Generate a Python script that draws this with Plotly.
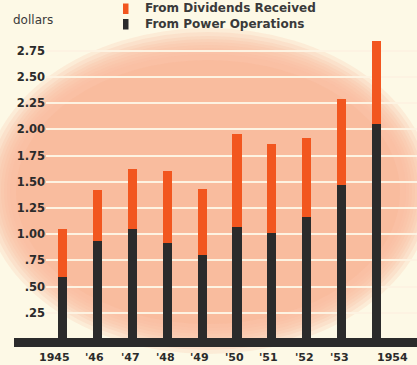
import plotly.graph_objects as go

# Earnings per share by year, in dollars
years = ["1945", "'46", "'47", "'48", "'49", "'50", "'51", "'52", "'53", "1954"]
power_operations = [0.59, 0.94, 1.05, 0.92, 0.80, 1.07, 1.01, 1.16, 1.47, 2.05]
dividends_received = [0.46, 0.48, 0.57, 0.68, 0.63, 0.89, 0.85, 0.76, 0.82, 0.79]

y_ticks = [0.25, 0.50, 0.75, 1.00, 1.25, 1.50, 1.75, 2.00, 2.25, 2.50, 2.75]
y_tick_text = [".25", ".50", ".75", "1.00", "1.25", "1.50", "1.75", "2.00", "2.25", "2.50", "2.75"]

# horizontal nudges for the year labels under the bars (pixels)
label_shift = [-8, -3, -2, -2, -3, -3, -3, -2, -2, 16]

W, H = 417, 365
CREAM = "#fdf9e6"
SALMON = "#f8b99b"
ORANGE = "#f2561f"
DARK = "#2b2b2b"
TEXT = "#3a3a3a"


def px(x):
    return x / W


def py(y):
    return (H - y) / H


idx = list(range(len(years)))

fig = go.Figure()
fig.add_trace(go.Bar(x=idx, y=power_operations, width=0.26, marker=dict(color=DARK, line=dict(width=0)),
                     name="From Power Operations", showlegend=False))
fig.add_trace(go.Bar(x=idx, y=dividends_received, width=0.26, marker=dict(color=ORANGE, line=dict(width=0)),
                     name="From Dividends Received", showlegend=False))

shapes = []
# soft salmon backdrop behind the plot: stacked translucent ellipses fade the rim
for grow in [18, 14, 10, 7, 4, 1, -2, -5, -8]:
    shapes.append(dict(type="circle", xref="paper", yref="paper", layer="below",
                       x0=px(2 - grow), x1=px(414 + grow), y0=py(336 + grow), y1=py(46 - grow),
                       fillcolor=SALMON, opacity=0.2, line=dict(width=0)))
shapes.append(dict(type="circle", xref="paper", yref="paper", layer="below",
                   x0=px(16), x1=px(400), y0=py(324), y1=py(60),
                   fillcolor=SALMON, opacity=0.6, line=dict(width=0)))
# thick baseline
shapes.append(dict(type="rect", xref="paper", yref="y", layer="above",
                   x0=px(14), x1=1, y0=-0.077, y1=0.01, fillcolor=DARK, line=dict(width=0)))
# legend swatches
shapes.append(dict(type="rect", xref="paper", yref="paper", x0=px(123), x1=px(128.5), y0=py(14), y1=py(3.5),
                   fillcolor=ORANGE, line=dict(width=0)))
shapes.append(dict(type="rect", xref="paper", yref="paper", x0=px(123), x1=px(128.5), y0=py(29.5), y1=py(19),
                   fillcolor=DARK, line=dict(width=0)))

annotations = []
for i, lab in enumerate(years):
    annotations.append(dict(x=i, y=0, xref="x", yref="y", text=lab, showarrow=False,
                            xanchor="center", yanchor="middle", yshift=-18.5, xshift=label_shift[i],
                            font=dict(family="DejaVu Sans", size=11, color=DARK, weight="bold")))
annotations.append(dict(x=px(11), y=py(20), xref="paper", yref="paper", text="dollars", showarrow=False,
                        xanchor="left", yanchor="middle",
                        font=dict(family="DejaVu Sans", size=12, color=TEXT)))
annotations.append(dict(x=px(143), y=py(8.5), xref="paper", yref="paper", text="From Dividends Received",
                        showarrow=False, xanchor="left", yanchor="middle",
                        font=dict(family="DejaVu Sans", size=12, color=TEXT, weight="bold")))
annotations.append(dict(x=px(143), y=py(24), xref="paper", yref="paper", text="From Power Operations",
                        showarrow=False, xanchor="left", yanchor="middle",
                        font=dict(family="DejaVu Sans", size=12, color=TEXT, weight="bold")))

fig.update_layout(
    width=W, height=H,
    margin=dict(l=0, r=0, t=0, b=0),
    paper_bgcolor=CREAM,
    plot_bgcolor="rgba(0,0,0,0)",
    barmode="stack",
    bargap=0,
    showlegend=False,
    shapes=shapes,
    annotations=annotations,
    xaxis=dict(domain=[px(46), 1], range=[-0.473, 10.158], showgrid=False, zeroline=False,
               showticklabels=False, ticks="", fixedrange=True),
    yaxis=dict(domain=[0, 1], range=[-0.248, 3.235], tickvals=y_ticks, ticktext=y_tick_text,
               showgrid=True, gridcolor="#fdf3e2", gridwidth=2, zeroline=False, ticks="",
               automargin=False,
               tickfont=dict(family="DejaVu Sans", size=11.5, color=DARK, weight="bold")),
)

fig.write_html("out.html")
